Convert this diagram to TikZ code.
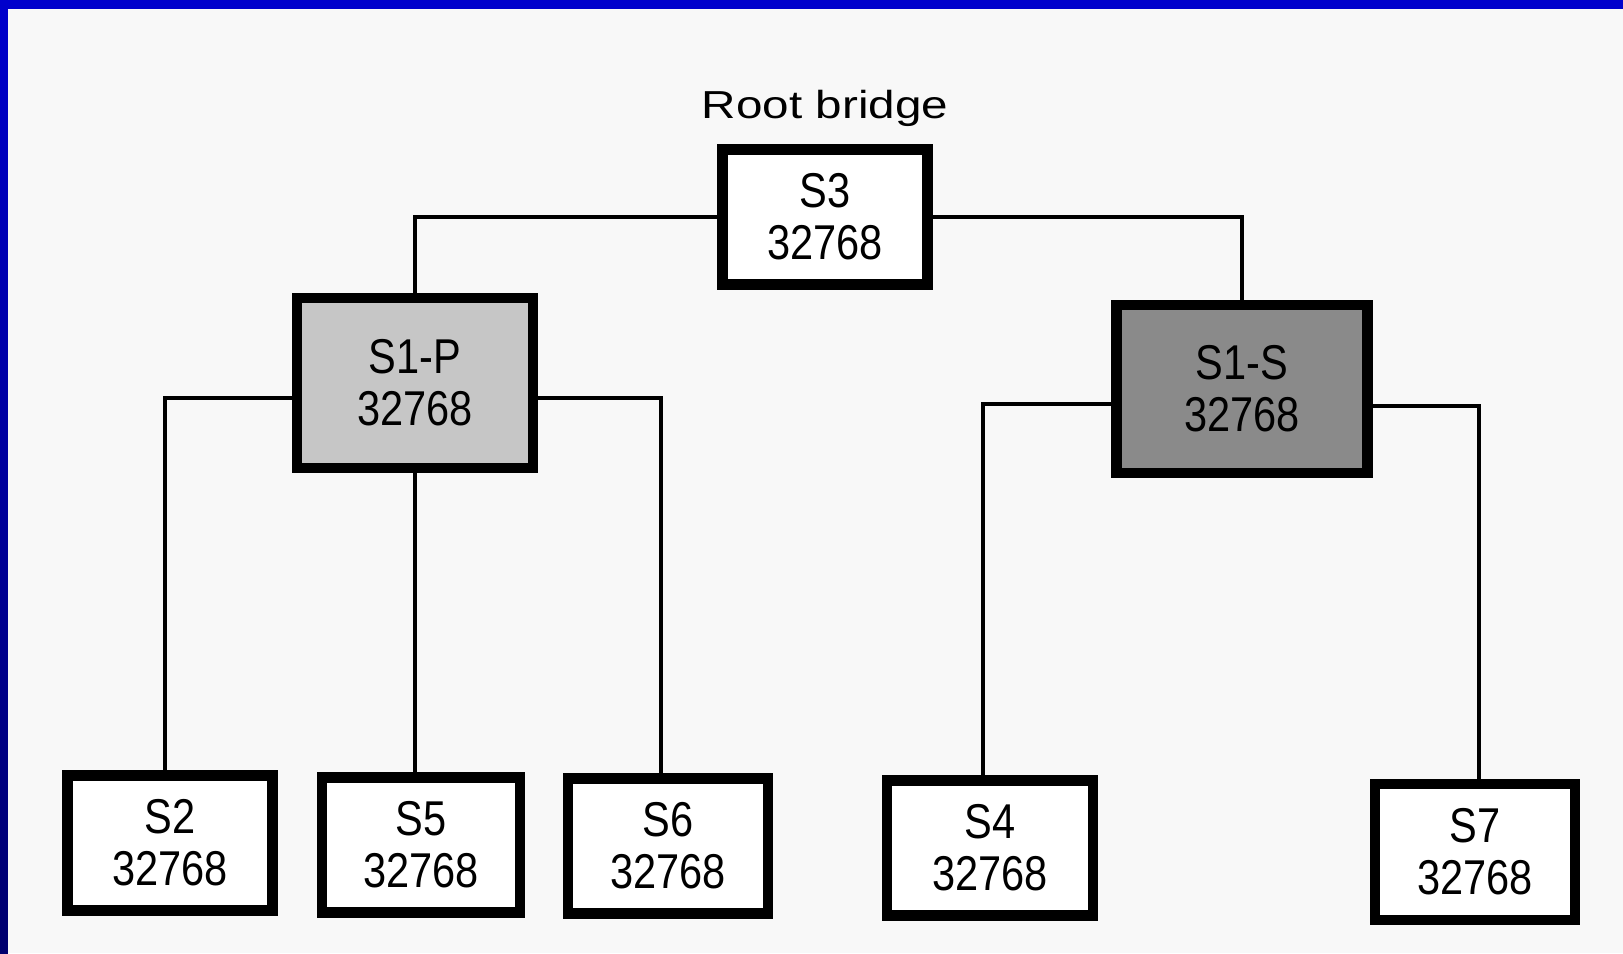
\documentclass[tikz,border=0pt]{standalone}
\usepackage{fontspec}
\setmainfont{Liberation Sans}
\newfontfamily\swfont[FakeStretch=0.85]{Liberation Sans}
\newfontfamily\capfont[FakeStretch=1.22]{Liberation Sans}
\usepackage{tikz}
\usetikzlibrary{calc}
\definecolor{frameBlue}{HTML}{0000CC}
\definecolor{frameNavy}{HTML}{00006E}
\definecolor{paperBg}{HTML}{F8F8F8}
\definecolor{primFill}{HTML}{C6C6C6}
\definecolor{secFill}{HTML}{8A8A8A}

\begin{document}
\begin{tikzpicture}[
  x=0.01cm,y=-0.01cm,
  bridge/.style={draw,line width=3pt,fill=white,inner sep=0pt,align=center,
                 font=\swfont\fontsize{13.9}{14.8}\selectfont,
                 minimum width=2.05cm,minimum height=1.35cm},
  link/.style={line width=1.2pt}
]
\useasboundingbox (0,0) rectangle (1623,953);
\fill[paperBg] (0,0) rectangle (1623,953);
\fill[frameBlue] (0,0) rectangle (1623,9);
\shade[top color=frameBlue,bottom color=frameNavy] (0,0) rectangle (8,953);

\node[font=\capfont\fontsize{11.1}{13}\selectfont,anchor=base] (rootlbl) at (825,118) {Root bridge};

% Bridges
\node[bridge] (s3) at (825,217) {S3\\32768};
\node[bridge,fill=primFill,minimum width=2.36cm,minimum height=1.70cm] (s1p) at (415,383) {S1-P\\32768};
\node[bridge,fill=secFill,minimum width=2.51cm,minimum height=1.68cm] (s1s) at (1242,389) {S1-S\\32768};
\node[bridge] (s2) at (170,843) {S2\\32768};
\node[bridge,minimum width=1.98cm] (s5) at (421,845) {S5\\32768};
\node[bridge,minimum width=2.00cm] (s6) at (668,846) {S6\\32768};
\node[bridge,minimum width=2.06cm] (s4) at (990,848) {S4\\32768};
\node[bridge,minimum width=2.00cm,minimum height=1.36cm] (s7) at (1475,852) {S7\\32768};

% Links
\draw[link] (s3.west) -| (s1p.north);
\draw[link] (s3.east) -| (s1s.north);
\draw[link] ($(s1p.west)+(0,15)$) -| ($(s2.north)+(-5,0)$);
\draw[link] (s1p.south) -- (s1p.south |- s5.north);
\draw[link] ($(s1p.east)+(0,15)$) -| ($(s6.north)+(-7,0)$);
\draw[link] ($(s1s.west)+(0,15)$) -| ($(s4.north)+(-7,0)$);
\draw[link] ($(s1s.east)+(0,17)$) -| ($(s7.north)+(4,0)$);
\end{tikzpicture}
\end{document}
